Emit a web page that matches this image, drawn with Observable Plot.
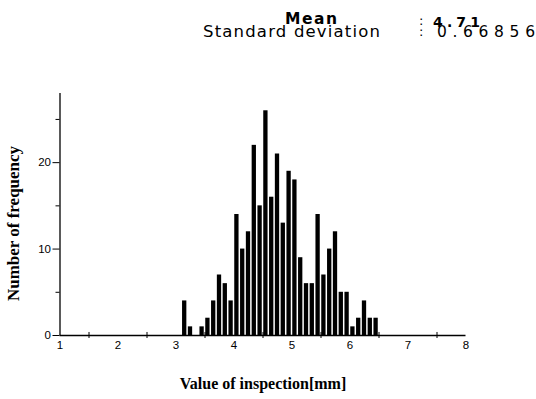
<!DOCTYPE html>
<html>
<head>
<meta charset="utf-8">
<script src="https://cdn.jsdelivr.net/npm/d3@7"></script>
<script src="https://cdn.jsdelivr.net/npm/@observablehq/plot@0.6"></script>
<style>
  body { margin: 0; background: #fff; }
  #head { display: block; }
</style>
</head>
<body>
<svg id="head" width="536" height="50" xmlns="http://www.w3.org/2000/svg" font-family="DejaVu Sans" fill="#000">
  <text x="285" y="24" font-size="15.5" font-weight="bold" textLength="52" lengthAdjust="spacing" id="meanLabel"></text>
  <text x="419" y="25" font-size="13">:</text>
  <text x="433" y="26.5" font-size="14" font-weight="bold" textLength="47" lengthAdjust="spacing" id="meanValue"></text>
  <text x="203" y="37.3" font-size="16.5" textLength="177" lengthAdjust="spacing" id="sdLabel"></text>
  <text x="419" y="36" font-size="13">:</text>
  <text x="437" y="37.3" font-size="15.5" textLength="98" lengthAdjust="spacing" id="sdValue"></text>
</svg>
<div id="chart"></div>
<script>
// Bin centres (width 0.1) and frequencies
const bins = [3.15, 3.25, 3.35, 3.45, 3.55, 3.65, 3.75, 3.85, 3.95,
  4.05, 4.15, 4.25, 4.35, 4.45, 4.55, 4.65, 4.75, 4.85, 4.95,
  5.05, 5.15, 5.25, 5.35, 5.45, 5.55, 5.65, 5.75, 5.85, 5.95,
  6.05, 6.15, 6.25, 6.35, 6.45];
const counts = [4, 1, 0, 1, 2, 4, 7, 6, 4,
  14, 10, 12, 22, 15, 26, 16, 21, 13, 19,
  18, 9, 6, 6, 14, 7, 10, 12, 5, 5,
  1, 2, 4, 2, 2];
const binWidth = 0.1;
const xTickLabels = [1, 2, 3, 4, 5, 6, 7, 8];
const xMinorTicks = [1.5, 2.5, 3.5, 4.5, 5.5, 6.5, 7.5];
const yTickLabels = [0, 10, 20];
const yMinorTicks = [5, 15, 25];
const statLabels = ["Mean", "Standard deviation"];
const statValues = ["4.71", "0.66856"];
const xTitle = "Value of inspection[mm]";
const yTitle = "Number of frequency";

document.getElementById("meanLabel").textContent = statLabels[0];
document.getElementById("sdLabel").textContent = statLabels[1];
document.getElementById("meanValue").textContent = statValues[0];
document.getElementById("sdValue").textContent = statValues[1];

const data = bins.map((b, i) => ({bin: b, count: counts[i]}));

const chart = Plot.plot({
  width: 536,
  height: 349,
  marginTop: 43,
  marginBottom: 64,
  marginLeft: 59.5,
  marginRight: 70.5,
  x: {domain: [1, 8]},
  y: {domain: [0, 28]},
  style: {fontFamily: "Liberation Sans, Arial, sans-serif", fontSize: "11.5px", color: "#000", background: "#fff"},
  marks: [
    Plot.rectY(data.filter(d => d.count > 0), {
      x1: d => d.bin - binWidth / 2,
      x2: d => d.bin + binWidth / 2,
      y: "count",
      fill: "#000",
      insetLeft: 0.75,
      insetRight: 0.75
    }),
    Plot.ruleX([1], {y1: 0, y2: 28, stroke: "#000", strokeWidth: 1.3}),
    Plot.ruleY([0], {x1: 1, x2: 8, stroke: "#000", strokeWidth: 1.3}),
    Plot.ruleX(xMinorTicks, {x: d => d, y1: -0.35, y2: 0.35, stroke: "#000"}),
    Plot.axisX({ticks: xTickLabels, tickSize: 0, tickPadding: 5, label: null, tickFormat: d => String(d)}),
    Plot.axisY({ticks: yTickLabels, tickSize: 7, tickPadding: 2, label: null, tickFormat: d => String(d)}),
    Plot.axisY({ticks: yMinorTicks, tickSize: 4, label: null, tickFormat: () => ""}),
    Plot.text([xTitle], {
      text: d => d,
      frameAnchor: "bottom",
      textAnchor: "middle",
      lineAnchor: "bottom",
      dy: 53,
      fontFamily: "Liberation Serif, Times New Roman, serif",
      fontWeight: "bold",
      fontSize: 16
    }),
    Plot.text([yTitle], {
      text: d => d,
      frameAnchor: "left",
      textAnchor: "middle",
      lineAnchor: "bottom",
      rotate: -90,
      dx: -41.5,
      dy: 9,
      fontFamily: "Liberation Serif, Times New Roman, serif",
      fontWeight: "bold",
      fontSize: 17,
      letterSpacing: "0.4px"
    })
  ]
});
document.getElementById("chart").appendChild(chart);
</script>
</body>
</html>
